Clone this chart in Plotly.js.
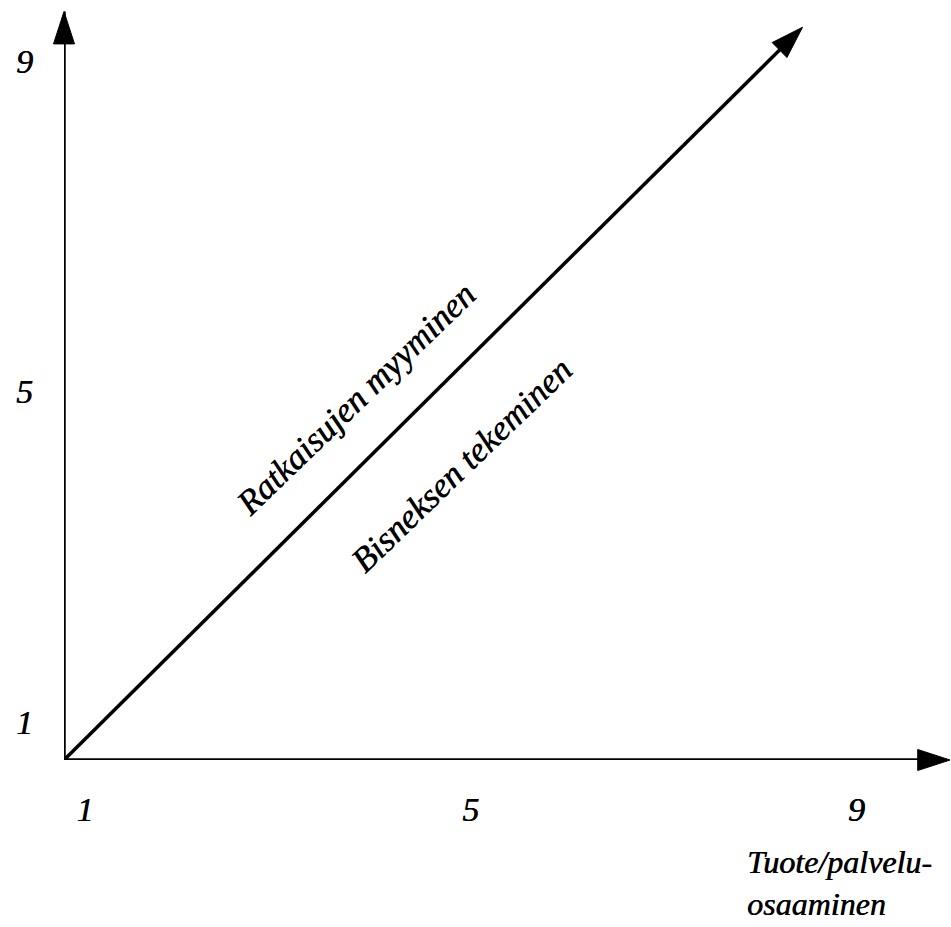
<!DOCTYPE html>
<html>
<head>
<meta charset="utf-8">
<script src="https://cdn.plot.ly/plotly-3.0.1.min.js"></script>
<style>html,body{margin:0;padding:0;background:#fff;}#chart{width:951px;height:927px;}</style>
</head>
<body>
<div id="chart"></div>
<script>
// Tick values / labels
const tickVals = [1, 5, 9];
const tickText = ["1", "5", "9"];

// Axis arrows (origin -> tip)
const xAxisArrowX = [1, 10.19];
const xAxisArrowY = [1, 1];
const yAxisArrowX = [1, 1];
const yAxisArrowY = [1, 10.06];

// Diagonal arrow
const diagX = [1, 8.66];
const diagY = [1, 9.87];

// Region labels
const regionLabels = ["Ratkaisujen myyminen", "Bisneksen tekeminen"];
const regionX = [4.02, 5.12];
const regionY = [5.37, 4.57];

const axisTitle = "Tuote/palvelu-<br>osaaminen";

const FONT = "Liberation Serif, Times New Roman, serif";
const SHADOW = "0.6px 0 0 #000";

function arrowTrace(xs, ys) {
  return {
    type: "scatter",
    mode: "lines+markers",
    x: xs, y: ys,
    line: {color: "#000", width: 3.5},
    marker: {symbol: "arrow", size: [0, 34], color: "#000", opacity: 1,
             angleref: "previous", line: {width: 1, color: "#000"}},
    cliponaxis: false,
    hoverinfo: "skip",
    showlegend: false
  };
}

const data = [
  arrowTrace(xAxisArrowX, xAxisArrowY),
  arrowTrace(yAxisArrowX, yAxisArrowY),
  arrowTrace(diagX, diagY)
];

const annotations = regionLabels.map((t, i) => ({
  text: t, x: regionX[i], y: regionY[i], xref: "x", yref: "y",
  showarrow: false, textangle: -44,
  font: {family: FONT, size: 35, style: "italic", color: "#000", shadow: SHADOW}
}));
annotations.push({
  text: axisTitle, xref: "paper", yref: "paper", x: 0.768, y: -0.108,
  xanchor: "left", yanchor: "top", align: "left", showarrow: false,
  font: {family: FONT, size: 32, style: "italic", color: "#000", shadow: SHADOW}
});

const layout = {
  width: 951, height: 927,
  margin: {l: 64, r: 0, t: 0, b: 167},
  paper_bgcolor: "#fff", plot_bgcolor: "#fff",
  showlegend: false,
  xaxis: {
    range: [1, 10.2], showgrid: false, zeroline: false, showline: false,
    tickmode: "array", tickvals: tickVals, ticktext: tickText, ticks: "",
    ticklabelshift: 21, ticklabelstandoff: 26,
    tickfont: {family: FONT, size: 34, style: "italic", color: "#000", shadow: SHADOW}
  },
  yaxis: {
    range: [1, 10.2], showgrid: false, zeroline: false, showline: false,
    tickmode: "array", tickvals: tickVals, ticktext: tickText, ticks: "",
    ticklabelshift: -38, ticklabelstandoff: 30,
    tickfont: {family: FONT, size: 34, style: "italic", color: "#000", shadow: SHADOW}
  },
  annotations: annotations
};

Plotly.newPlot("chart", data, layout, {displayModeBar: false, staticPlot: true});
</script>
</body>
</html>
